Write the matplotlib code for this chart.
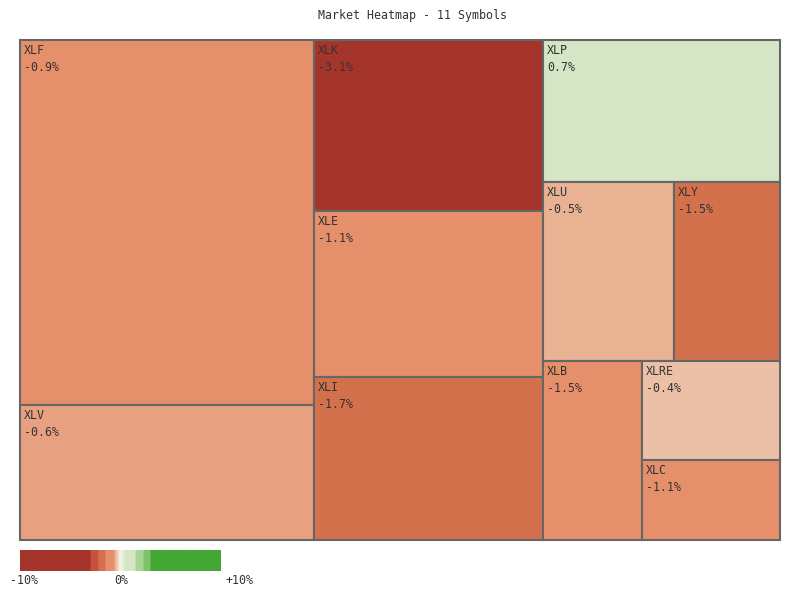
import numpy as np
import matplotlib
matplotlib.use("Agg")
import matplotlib.pyplot as plt
from matplotlib.patches import Rectangle
from matplotlib.colors import LinearSegmentedColormap, to_rgb

# sector ETFs, relative size (share of map area) and daily change in %
symbols = ['XLF', 'XLV', 'XLK', 'XLE', 'XLI', 'XLP', 'XLU', 'XLY', 'XLB', 'XLRE', 'XLC']
weights = [28.24, 10.45, 10.30, 10.00, 9.82, 8.86, 6.17, 4.99, 4.66, 3.60, 2.91]
changes = [-0.9, -0.6, -3.1, -1.1, -1.7, 0.7, -0.5, -1.54, -1.46, -0.4, -1.1]

# colour scale nodes, change in % -> colour
scale_vals = [-10, -3, -3, -2.2, -2.2, -1.5, -1.5, -0.7, -0.6, -0.5, -0.4, 0,
              0, 0.5, 1.5, 1.5, 2.3, 2.3, 3, 3, 10]
scale_cols = ['#a5352b', '#a5352b', '#c8503f', '#c8503f', '#d4714d', '#d4714d',
              '#e5906a', '#e5906a', '#e8a07f', '#e9b293', '#ecc0a6', '#fbf4ef',
              '#f3f7ec', '#d4e6c5', '#d4e6c5', '#a8d595', '#a8d595', '#7cc36a',
              '#7cc36a', '#44a834', '#44a834']
legend_labels = ['-10%', '0%', '+10%']

W, H = 760, 500
COL_BIAS = 0.9
FONT = 'DejaVu Sans Mono'
TXT = '#333333'
EDGE = '#666666'
FS = 8.4

cmap = LinearSegmentedColormap.from_list(
    'heat', [((v + 10) / 20, to_rgb(c)) for v, c in zip(scale_vals, scale_cols)], N=1024)


def color_of(v):
    return cmap((np.clip(v, -10, 10) + 10) / 20)


def worst(row, side):
    s = sum(row)
    return max(max(side * side * r / (s * s), s * s / (side * side * r)) for r in row)


def squarify(vals, x, y, w, h):
    rects = []
    vals = list(vals)
    while vals:
        column = w >= COL_BIAS * h
        side = h if column else w
        i = 1
        while i < len(vals) and worst(vals[:i + 1], side) <= worst(vals[:i], side):
            i += 1
        row = vals[:i]
        thick = sum(row) / side
        pos = 0
        for v in row:
            l = v / thick
            if column:
                rects.append((x, y + pos, thick, l))
            else:
                rects.append((x + pos, y, l, thick))
            pos += l
        if column:
            x += thick
            w -= thick
        else:
            y += thick
            h -= thick
        vals = vals[i:]
    return rects


areas = np.array(weights) / sum(weights) * W * H
rects = squarify(areas, 0, 0, W, H)

fig = plt.figure(figsize=(8, 6), dpi=100)
ax = fig.add_axes([20 / 800, 60 / 600, 760 / 800, 500 / 600])
ax.set_xlim(0, W)
ax.set_ylim(H, 0)
ax.axis('off')

for (x, y, w, h), sym, ch in zip(rects, symbols, changes):
    ax.add_patch(Rectangle((x, y), w, h, facecolor=color_of(ch), edgecolor=EDGE,
                           linewidth=1.5, clip_on=False))
    ax.text(x + 4, y + 4, sym, ha='left', va='top', fontsize=FS, family=FONT, color=TXT)
    ax.text(x + 4, y + 21, f"{ch:.1f}%", ha='left', va='top', fontsize=FS,
            family=FONT, color=TXT)

fig.text(413 / 800, 1 - 16 / 600, 'Market Heatmap - 11 Symbols', ha='center',
         va='center', fontsize=FS, family=FONT, color=TXT)

# colour legend
cax = fig.add_axes([20 / 800, 1 - 571 / 600, 200 / 800, 21 / 600])
grad = np.linspace(-10, 10, 800).reshape(1, -1)
cax.imshow(grad, cmap=cmap, vmin=-10, vmax=10, aspect='auto', extent=(-10, 10, 0, 1))
cax.axis('off')
for lx, lab in zip([24.5, 121, 239], legend_labels):
    fig.text(lx / 800, 1 - 580 / 600, lab, ha='center', va='center', fontsize=FS,
             family=FONT, color=TXT)

fig.savefig('out.png', dpi=100)
